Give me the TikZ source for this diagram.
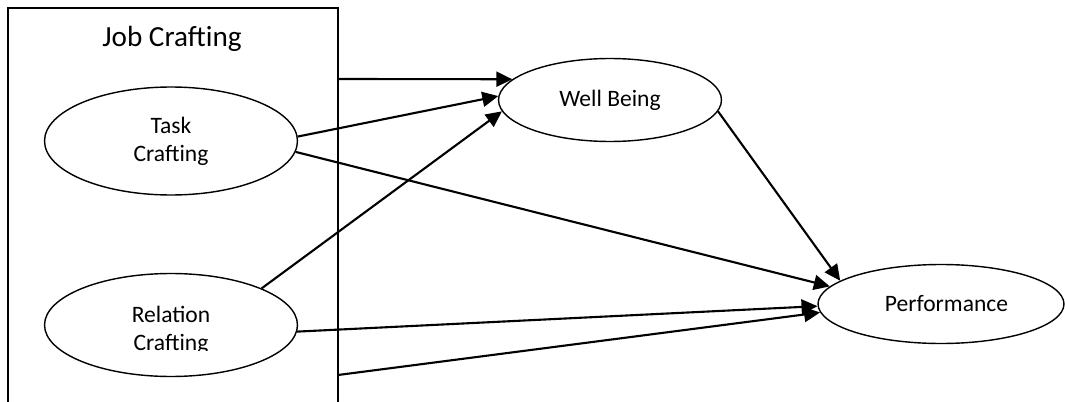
\documentclass[tikz,border=0pt]{standalone}
\usepackage{fontspec}
\setmainfont{Carlito}
\usetikzlibrary{arrows.meta,shapes.geometric}

\begin{document}
\begin{tikzpicture}[x=0.02cm, y=-0.02cm,
  oval/.style={draw, ellipse, line width=0.8pt, inner sep=0pt, align=center,
    font=\fontsize{13.4}{16}\selectfont},
  link/.style={line width=1.2pt, -{Triangle[length=0.32cm, width=0.3cm]}}]
\useasboundingbox (0,0) rectangle (1065,402);
\begin{scope}
\clip (0,0) rectangle (1065,401);
\draw[line width=0.8pt] (8,440) -- (8,8) -- (338,8) -- (338,440);
\end{scope}
\node[inner sep=0pt, font=\fontsize{16.6}{20}\selectfont] (jc) at (172,38.5) {Job Crafting};
\coordinate (jctop) at (338,79);
\coordinate (jcbot) at (338,375);

\node[oval, minimum width=5.06cm, minimum height=2.16cm] (task) at (171,141) {\rule{0pt}{0.12cm}Task\\Crafting};
\node[oval, minimum width=5.06cm, minimum height=2.06cm] (rel) at (171,325) {};
\begin{scope}
\clip (60,290) rectangle (290,350);
\node[align=center, inner sep=0pt, font=\fontsize{13.4}{16}\selectfont] (reltext) at (171,330) {Relation\\Crafting};
\end{scope}
\node[oval, minimum width=4.46cm, minimum height=1.66cm] (well) at (610,100) {Well Being};
\node[oval, minimum width=4.92cm, minimum height=1.58cm] (perf) at (941,304) {\hspace*{0.22cm}Performance};

\draw[link] (jctop) -- (well.168);
\draw[link] (task.2) -- (well.178);
\draw[link] (rel.22) -- (well.186);
\draw[link] (task.-5) -- (perf.171);
\draw[link] (well.-6) -- (perf.167);
\draw[link] (rel.-3) -- (perf.181);
\draw[link] (jcbot) -- (perf.184);
\end{tikzpicture}
\end{document}
